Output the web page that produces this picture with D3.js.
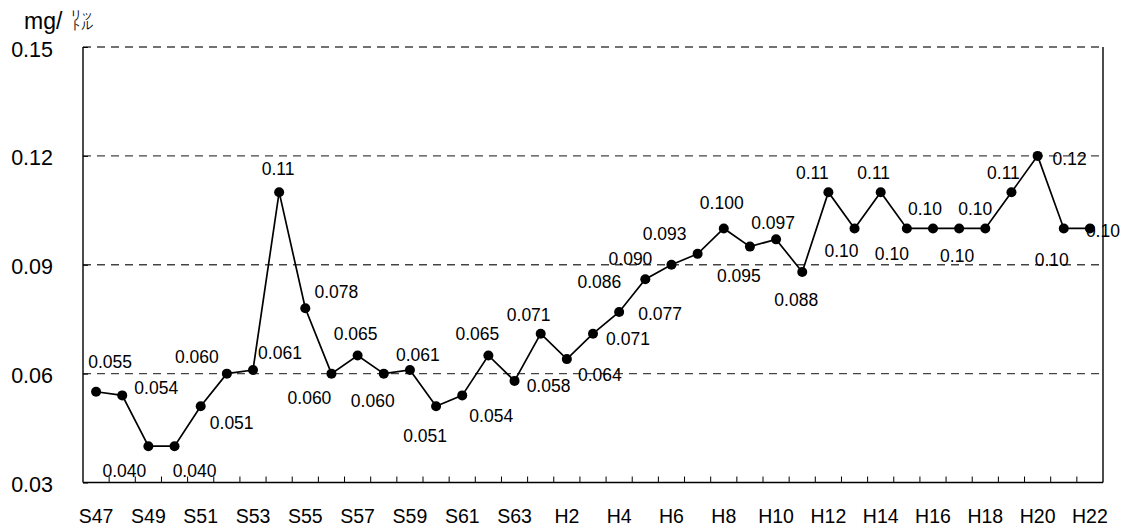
<!DOCTYPE html>
<html>
<head>
<meta charset="utf-8">
<script src="https://cdn.jsdelivr.net/npm/d3@7"></script>
<style>
  html, body { margin: 0; padding: 0; background: #fff; }
  svg { display: block; }
  text { font-family: "Liberation Sans", Arial, sans-serif; fill: #000; }
</style>
</head>
<body>
<svg id="chart" width="1124" height="529"></svg>
<script>
// ---- data ----
const years = ["S47","S48","S49","S50","S51","S52","S53","S54","S55","S56","S57","S58","S59","S60","S61","S62","S63",
  "H1","H2","H3","H4","H5","H6","H7","H8","H9","H10","H11","H12","H13","H14","H15","H16","H17","H18","H19","H20","H21","H22"];
const values = [0.055,0.054,0.040,0.040,0.051,0.060,0.061,0.11,0.078,0.060,0.065,0.060,0.061,0.051,0.054,0.065,0.058,
  0.071,0.064,0.071,0.077,0.086,0.090,0.093,0.100,0.095,0.097,0.088,0.11,0.10,0.11,0.10,0.10,0.10,0.10,0.11,0.12,0.10,0.10];
const valueLabels = ["0.055","0.054","0.040","0.040","0.051","0.060","0.061","0.11","0.078","0.060","0.065","0.060","0.061","0.051","0.054","0.065","0.058",
  "0.071","0.064","0.071","0.077","0.086","0.090","0.093","0.100","0.095","0.097","0.088","0.11","0.10","0.11","0.10","0.10","0.10","0.10","0.11","0.12","0.10","0.10"];
const xTickLabels = ["S47","S49","S51","S53","S55","S57","S59","S61","S63","H2","H4","H6","H8","H10","H12","H14","H16","H18","H20","H22"];
const yTicks = [0.03, 0.06, 0.09, 0.12, 0.15];
const unitMain = "mg/";
const unitSmall = ["リッ", "トル"];

// ---- layout (label offsets from each point, in px) ----
const labelOffsets = [[14,-30],[34,-8],[-24,24],[20,24],[31,16],[-30,-17],[27,-17],[-1,-23],[31,-17],[-22,24],
  [-2,-22],[-11,27],[8,-15],[-11,29],[29,20],[-11,-22],[34,5],
  [-12,-19],[33,16],[35,5],[41,2],[-46,2],[-41,-6],[-33,-20],[-2,-26],[-11,29],[-3,-17],[-6,28],
  [-16,-19],[-13,22],[-7,-19],[-15,25],[-8,-20],[-2,27],[-10,-20],[-8,-19],[32,3],[-12,31],[13,2]];

const mLeft = 83, mRight = 1103, mTop = 47, mBottom = 482.5;
const svg = d3.select("#chart");

const x = d3.scaleBand().domain(years).range([mLeft, mRight]).paddingInner(0).paddingOuter(0);
const cx = d => x(d) + x.bandwidth() / 2;
const y = d3.scaleLinear().domain([0.03, 0.15]).range([mBottom, mTop]);

// gridlines (dashed)
svg.append("g").selectAll("line")
  .data(yTicks.filter(t => t > 0.03))
  .join("line")
  .attr("x1", mLeft).attr("x2", mRight)
  .attr("y1", d => y(d)).attr("y2", d => y(d))
  .attr("stroke", "#444").attr("stroke-width", 1.3)
  .attr("stroke-dasharray", "8,6");

// frame: left, right solid
svg.append("line").attr("x1", mLeft).attr("x2", mLeft).attr("y1", mTop).attr("y2", mBottom)
  .attr("stroke", "#000").attr("stroke-width", 1.4);
svg.append("line").attr("x1", mRight).attr("x2", mRight).attr("y1", mTop).attr("y2", mBottom)
  .attr("stroke", "#000").attr("stroke-width", 1.4);

// y axis
const yAxis = d3.axisLeft(y).tickValues(yTicks).tickFormat(d3.format(".2f")).tickSize(-5).tickPadding(30);
const gy = svg.append("g").attr("transform", `translate(${mLeft},0)`).call(yAxis);
gy.select(".domain").remove();
gy.selectAll(".tick line").attr("stroke", "#000");
gy.selectAll("text").attr("font-size", 21.5).attr("font-family", "Liberation Sans, Arial, sans-serif").attr("fill", "#000").attr("dy", "0.42em");

// x axis labels
const xAxis = d3.axisBottom(x).tickValues(xTickLabels).tickSize(0).tickPadding(27).tickFormat(d => d);
const gx = svg.append("g").attr("transform", `translate(0,${mBottom})`).call(xAxis);
gx.select(".domain").remove();
gx.selectAll("text").attr("font-size", 19.5).attr("font-family", "Liberation Sans, Arial, sans-serif").attr("fill", "#000");

// bottom axis line
svg.append("line").attr("x1", mLeft).attr("x2", mRight).attr("y1", mBottom).attr("y2", mBottom)
  .attr("stroke", "#000").attr("stroke-width", 1.6);

// boundary ticks (inward)
svg.append("g").selectAll("line")
  .data(years.slice(1))
  .join("line")
  .attr("x1", d => x(d)).attr("x2", d => x(d))
  .attr("y1", mBottom).attr("y2", mBottom - 6)
  .attr("stroke", "#000").attr("stroke-width", 1);

// series line
const pts = years.map((yr, i) => ({ yr, v: values[i], lab: valueLabels[i], off: labelOffsets[i] }));
svg.append("path")
  .datum(pts)
  .attr("fill", "none").attr("stroke", "#000").attr("stroke-width", 1.7)
  .attr("d", d3.line().x(d => cx(d.yr)).y(d => y(d.v)));

svg.append("g").selectAll("circle")
  .data(pts).join("circle")
  .attr("cx", d => cx(d.yr)).attr("cy", d => y(d.v)).attr("r", 5)
  .attr("fill", "#000");

svg.append("g").selectAll("text")
  .data(pts).join("text")
  .attr("x", d => cx(d.yr) + d.off[0])
  .attr("y", d => y(d.v) + d.off[1])
  .attr("dy", "0.36em")
  .attr("text-anchor", "middle")
  .attr("font-size", 17.5)
  .text(d => d.lab);

// unit label
svg.append("text").attr("x", 24).attr("y", 29).attr("font-size", 23).text(unitMain);
const small = svg.append("text")
  .attr("font-size", 11.5)
  .attr("letter-spacing", -1)
  .attr("font-family", "Noto Sans CJK JP, sans-serif");
small.selectAll("tspan")
  .data(unitSmall).join("tspan")
  .attr("x", 70).attr("y", (d, i) => 18.5 + i * 10.5)
  .text(d => d);
</script>
</body>
</html>
